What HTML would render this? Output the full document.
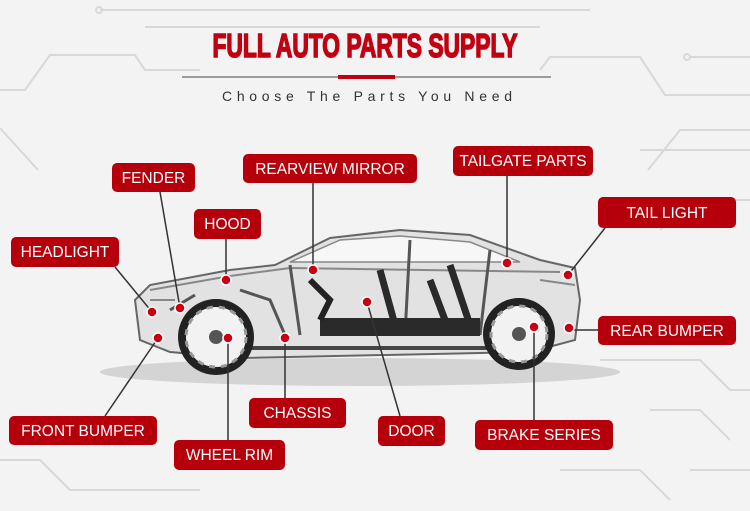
<!DOCTYPE html>
<html><head><meta charset="utf-8"><style>
html,body{margin:0;padding:0;background:#f3f3f3}
svg{display:block}
.l{font-family:"Liberation Sans",sans-serif;font-size:15.5px;fill:#fff}
</style></head><body>
<svg width="750" height="511" viewBox="0 0 750 511" xmlns="http://www.w3.org/2000/svg">
<rect width="750" height="511" fill="#f3f3f3"/>
<g stroke="#d8d8d8" stroke-width="2" fill="none">
<path d="M0 90 H25 L50 55 H135 L145 70 H200"/>
<path d="M100 10 H590"/><circle cx="99" cy="10" r="3"/>
<path d="M145 27 H540"/>
<path d="M750 57 H690"/><circle cx="687" cy="57" r="3"/>
<path d="M750 95 H665 L640 57 H550 L540 70"/>
<path d="M750 130 H680 L648 170"/>
<path d="M0 128 L38 170"/>
<path d="M750 200 H700 L660 230"/>
<path d="M640 150 H750"/>
<path d="M600 360 H700 L730 390 H750"/>
<path d="M650 410 H700 L730 440"/>
<path d="M690 470 H750"/>
<path d="M0 460 H40 L70 490 H200"/>
<path d="M560 470 H640 L670 500"/>
</g>
<text x="365" y="57" text-anchor="middle" textLength="305" lengthAdjust="spacingAndGlyphs" font-family="Liberation Sans Narrow,Liberation Sans,sans-serif" font-weight="bold" font-size="33" fill="#c00010" stroke="#c00010" stroke-width="1.6">FULL AUTO PARTS SUPPLY</text>
<line x1="182" y1="77" x2="551" y2="77" stroke="#444" stroke-width="1"/>
<line x1="338" y1="77" x2="395" y2="77" stroke="#c00010" stroke-width="4"/>
<text x="367" y="101" text-anchor="middle" textLength="290" font-family="Liberation Sans,sans-serif" font-size="14" fill="#333">Choose The Parts You Need</text>
<ellipse cx="360" cy="372" rx="260" ry="14" fill="#d4d4d4"/>
<path d="M140 340 L135 300 L150 285 L230 270 L275 265 L330 238 L400 230 L470 235 L540 260 L575 268 L580 300 L575 340 L530 352 L240 358 L170 352 Z" fill="#e2e2e2" stroke="#666" stroke-width="2"/>
<path d="M290 262 L340 240 L400 236 L470 242 L520 262 Z" fill="#f7f7f7" stroke="#888" stroke-width="1.5"/>
<path d="M150 290 L230 276 L290 268 L560 272 M150 300 L175 300 M540 280 L575 285" stroke="#888" stroke-width="2" fill="none"/>
<path d="M290 265 L300 335 M410 240 L405 335 M490 250 L480 335" stroke="#555" stroke-width="3" fill="none"/>
<rect x="320" y="318" width="160" height="18" fill="#2a2a2a"/>
<path d="M310 280 L330 300 L320 320" stroke="#222" stroke-width="6" fill="none"/>
<path d="M380 270 L395 325 M450 265 L470 325 M430 280 L445 320" stroke="#2a2a2a" stroke-width="7" fill="none"/>
<path d="M240 290 L270 300 L285 335 M170 310 L195 295" stroke="#555" stroke-width="3" fill="none"/>
<line x1="240" y1="348" x2="520" y2="348" stroke="#444" stroke-width="4"/>
<g>
<circle cx="216" cy="337" r="38" fill="#222"/><circle cx="216" cy="337" r="30" fill="#f2f2f2"/>
<circle cx="216" cy="337" r="30" fill="none" stroke="#999" stroke-width="3" stroke-dasharray="6 6"/>
<circle cx="216" cy="337" r="7" fill="#555"/>
<circle cx="519" cy="334" r="36" fill="#222"/><circle cx="519" cy="334" r="28" fill="#f2f2f2"/>
<circle cx="519" cy="334" r="28" fill="none" stroke="#999" stroke-width="3" stroke-dasharray="6 6"/>
<circle cx="519" cy="334" r="7" fill="#555"/>
</g>
<g stroke="#333" stroke-width="1.5" fill="none">
<path d="M160 192 L180 308"/>
<path d="M313 183 V270"/>
<path d="M507 176 V263"/>
<path d="M605 228 L568 275"/>
<path d="M598 330 H569"/>
<path d="M226 239 V280"/>
<path d="M115 267 L152 312"/>
<path d="M105 416 L158 338"/>
<path d="M285 398 V338"/>
<path d="M400 416 L367 302"/>
<path d="M534 420 V327"/>
<path d="M228 440 V338"/>
</g>
<g fill="#c8000f" stroke="#fff" stroke-width="1.5">
<circle cx="152" cy="312" r="5"/><circle cx="180" cy="308" r="5"/><circle cx="226" cy="280" r="5"/><circle cx="313" cy="270" r="5"/><circle cx="367" cy="302" r="5"/><circle cx="507" cy="263" r="5"/><circle cx="568" cy="275" r="5"/><circle cx="569" cy="328" r="5"/><circle cx="534" cy="327" r="5"/><circle cx="228" cy="338" r="5"/><circle cx="285" cy="338" r="5"/><circle cx="158" cy="338" r="5"/>
</g>
<g fill="#b5000c">
<rect x="112" y="163" width="83" height="29" rx="5"/>
<rect x="243" y="154" width="174" height="29" rx="5"/>
<rect x="453" y="146" width="140" height="30" rx="5"/>
<rect x="598" y="197" width="138" height="31" rx="5"/>
<rect x="194" y="209" width="67" height="30" rx="5"/>
<rect x="11" y="237" width="108" height="30" rx="5"/>
<rect x="598" y="316" width="138" height="29" rx="5"/>
<rect x="9" y="416" width="148" height="29" rx="5"/>
<rect x="249" y="398" width="97" height="30" rx="5"/>
<rect x="378" y="416" width="67" height="30" rx="5"/>
<rect x="475" y="420" width="138" height="30" rx="5"/>
<rect x="174" y="440" width="111" height="30" rx="5"/>
</g>
<g text-anchor="middle">
<text class="l" x="153.5" y="183">FENDER</text>
<text class="l" x="330" y="174">REARVIEW MIRROR</text>
<text class="l" x="523" y="166">TAILGATE PARTS</text>
<text class="l" x="667" y="218">TAIL LIGHT</text>
<text class="l" x="227.5" y="229">HOOD</text>
<text class="l" x="65" y="257">HEADLIGHT</text>
<text class="l" x="667" y="336">REAR BUMPER</text>
<text class="l" x="83" y="436">FRONT BUMPER</text>
<text class="l" x="297.5" y="418">CHASSIS</text>
<text class="l" x="411.5" y="436">DOOR</text>
<text class="l" x="544" y="440">BRAKE SERIES</text>
<text class="l" x="229.5" y="460">WHEEL RIM</text>
</g>
</svg>
</body></html>
